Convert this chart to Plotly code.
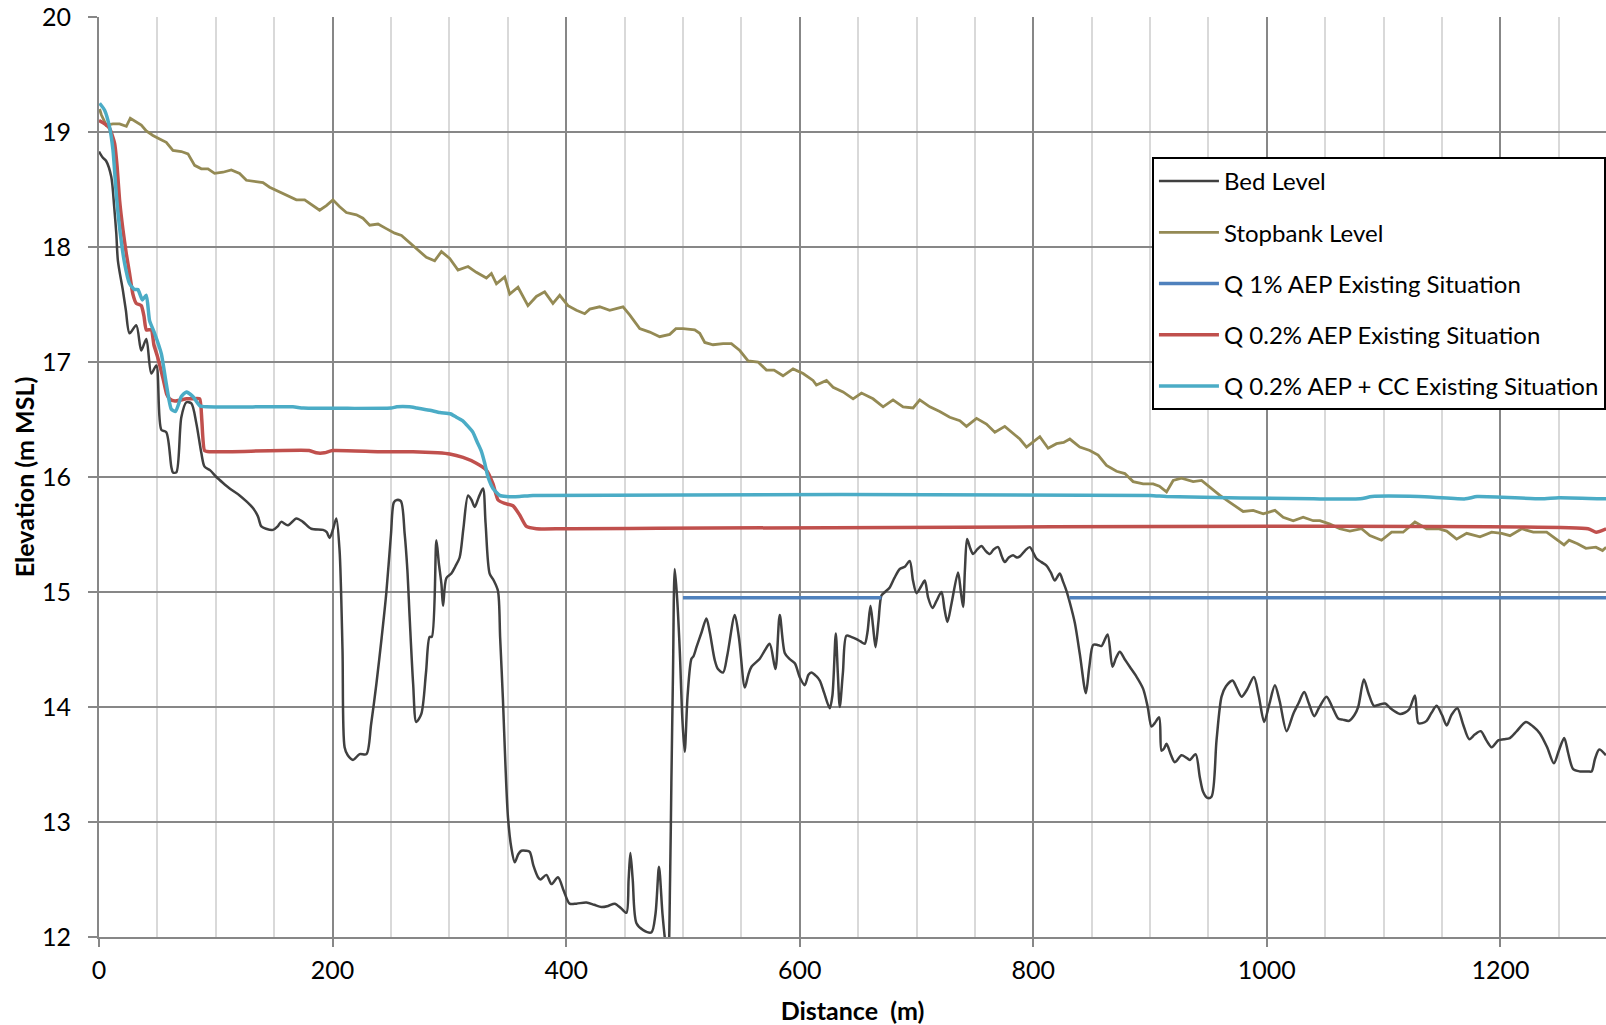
import plotly.graph_objects as go

# ---------------- data ----------------
bed_x = [0, 3, 6, 10.5, 13, 14.8, 16.2, 20.5, 23, 26.2, 31.9, 36.2, 40.5, 44.8, 49.1, 53.4, 57.6, 61.9, 63.3, 66.2,
         70.5, 74.8, 79.1, 83.3, 87.6, 90.4, 95, 100.5, 106, 111.9, 120.4, 126, 131.8, 136, 139, 143, 149, 153, 156,
         161.8, 169, 174.6, 181.8, 191.8, 195, 197.5, 200.5, 203.2, 206, 208.5, 210.3, 213, 217.5, 223.2, 229, 233,
         237.5, 242, 246, 250, 252.5, 255, 258.5, 261.7, 264, 266, 269, 271.7, 276, 280, 283.1, 285, 288.9, 291,
         293.2, 294.6, 297.4, 301.7, 305, 308.8, 312, 316, 319, 321.7, 325, 328.8, 331, 334.5, 338, 341.6, 343.5,
         345.9, 348, 350.2, 353, 356, 359, 361.7, 365.5, 368.8, 372, 375.9, 378, 383.1, 387.4, 393, 398, 403, 408.8,
         417.3, 424, 430.2, 436, 441.6, 447, 451.6, 453.5, 455, 457, 460.2, 466, 473, 476.5, 479.5, 482.5, 485,
         487.3, 489, 490.1, 491.5, 493, 495, 497.3, 499.5, 501.5, 504, 507.3, 509, 511.6, 516, 520.1, 523, 527.2,
         530, 534.4, 538, 544.4, 548, 553, 556, 558.7, 565.8, 570, 574.3, 579.2, 582.9, 587.2, 591, 595.8, 600,
         604.3, 607.5, 610, 614, 617.2, 621, 625.7, 628, 630.9, 632.6, 634.3, 637, 640, 644, 648.6, 652, 655.7, 658,
         660.6, 662.8, 664.9, 667.5, 670, 673, 677.1, 681, 685.7, 690, 694.2, 697, 700, 704, 707.1, 710, 713.7, 717,
         721.4, 724, 726.5, 730, 735.6, 738, 739.9, 741.5, 743.3, 746, 748.5, 752, 755.6, 759, 762.8, 766, 769.9,
         773, 775.6, 779, 782.7, 786, 788.5, 793, 797, 802.8, 807, 811.3, 815, 818.4, 822.7, 825.5, 828.4, 831.5,
         835.6, 840, 845, 848, 851.3, 855, 858.4, 863.6, 867.8, 871, 874.1, 878, 882.6, 888, 894, 898, 901.2, 904,
         907.8, 909.8, 912, 914.1, 918, 921.2, 926.9, 931, 934, 939, 942.6, 945.5, 949, 952.6, 956.9, 961.2, 965,
         970.6, 974, 978.3, 983, 988.9, 993, 997.7, 1002, 1006.9, 1011, 1016.9, 1022.6, 1027, 1032, 1036, 1040.6,
         1045, 1051.1, 1056, 1061.1, 1065, 1070.5, 1075, 1078.2, 1083.1, 1087, 1091.7, 1096, 1101.1, 1107, 1114,
         1118, 1121.9, 1126.8, 1129.7, 1133, 1136.8, 1141, 1145.4, 1150, 1154, 1158, 1163.1, 1168, 1173.3, 1178,
         1183.1, 1188, 1192.5, 1198.1, 1203, 1208.1, 1214, 1221.8, 1228, 1233.8, 1240, 1245.8, 1250, 1254.6, 1258,
         1262.3, 1268, 1275, 1278.1, 1281, 1284.6, 1290.3]
bed_y = [18.83, 18.78, 18.75, 18.61, 18.35, 18.12, 17.88, 17.62, 17.45, 17.25, 17.32, 17.10, 17.20, 16.90, 16.97,
         16.41, 16.39, 16.09, 16.04, 16.04, 16.52, 16.65, 16.64, 16.47, 16.21, 16.09, 16.06, 16.0, 15.95, 15.90,
         15.84, 15.79, 15.73, 15.66, 15.57, 15.55, 15.54, 15.57, 15.61, 15.58, 15.64, 15.61, 15.55, 15.54, 15.52,
         15.47, 15.55, 15.64, 15.36, 14.5, 13.65, 13.58, 13.54, 13.59, 13.59, 13.85, 14.20, 14.6, 14.99, 15.5, 15.78,
         15.80, 15.79, 15.51, 15.2, 14.78, 14.2, 13.87, 13.94, 14.30, 14.61, 14.61, 15.45, 15.25, 15.07, 14.88, 15.12,
         15.16, 15.22, 15.30, 15.55, 15.84, 15.80, 15.74, 15.82, 15.90, 15.6, 15.16, 15.10, 15.01, 14.6, 14.06, 13.5,
         13.04, 12.78, 12.65, 12.72, 12.75, 12.75, 12.74, 12.62, 12.52, 12.50, 12.54, 12.46, 12.52, 12.40, 12.29,
         12.29, 12.30, 12.28, 12.26, 12.27, 12.29, 12.25, 12.21, 12.5, 12.73, 12.5, 12.12, 12.06, 12.04, 12.2, 12.61,
         12.2, 11.95, 11.8, 12.5, 13.34, 14.3, 15.20, 14.95, 14.49, 13.9, 13.61, 14.1, 14.42, 14.44, 14.52, 14.65,
         14.77, 14.65, 14.41, 14.33, 14.30, 14.45, 14.80, 14.6, 14.17, 14.28, 14.35, 14.42, 14.49, 14.55, 14.33,
         14.80, 14.47, 14.42, 14.38, 14.26, 14.19, 14.28, 14.30, 14.27, 14.23, 14.12, 13.99, 14.1, 14.64, 14.3, 14.00,
         14.3, 14.62, 14.61, 14.59, 14.57, 14.55, 14.65, 14.88, 14.7, 14.52, 14.75, 14.97, 15.0, 15.04, 15.12, 15.20,
         15.22, 15.27, 15.1, 14.99, 15.05, 15.10, 14.95, 14.86, 14.92, 15.00, 14.85, 14.74, 14.9, 15.17, 15.0, 14.87,
         15.2, 15.46, 15.38, 15.33, 15.37, 15.40, 15.36, 15.33, 15.37, 15.39, 15.31, 15.26, 15.30, 15.32, 15.30,
         15.31, 15.36, 15.39, 15.29, 15.26, 15.23, 15.17, 15.10, 15.16, 15.09, 15.01, 14.90, 14.73, 14.45, 14.12,
         14.35, 14.54, 14.54, 14.53, 14.63, 14.35, 14.43, 14.48, 14.42, 14.35, 14.27, 14.16, 14.0, 13.83, 13.86,
         13.91, 13.62, 13.64, 13.68, 13.58, 13.52, 13.58, 13.56, 13.54, 13.59, 13.39, 13.26, 13.21, 13.22, 13.71,
         14.09, 14.18, 14.23, 14.17, 14.09, 14.15, 14.26, 14.1, 13.87, 14.02, 14.19, 14.05, 13.79, 13.94, 14.03,
         14.13, 14.03, 13.92, 14.0, 14.09, 14.0, 13.90, 13.89, 13.88, 13.93, 14.00, 14.24, 14.12, 14.01, 14.02,
         14.03, 13.98, 13.94, 13.95, 13.98, 14.10, 13.86, 13.86, 13.88, 13.95, 14.01, 13.93, 13.84, 13.93, 13.99,
         13.85, 13.72, 13.76, 13.79, 13.71, 13.65, 13.71, 13.72, 13.73, 13.79, 13.87, 13.83, 13.77, 13.65, 13.51,
         13.62, 13.73, 13.6, 13.46, 13.44, 13.44, 13.44, 13.55, 13.63, 13.58]

stop_x = [0.5, 2, 6.2, 11.9, 17.6, 23.4, 26.8, 31.9, 36.2, 40.5, 46.2, 51.9, 57.6, 63.3, 70.5, 76.2, 81.9, 87.6, 93.3,
          99, 106.1, 113.3, 120.4, 126.2, 133.3, 140.4, 146.1, 154.7, 161.8, 169, 176.1, 183.2, 188.9, 194.7, 200.3,
          206.1, 211.8, 220.4, 226, 231.8, 238.9, 246, 253.2, 259, 266, 271.7, 280.3, 287.4, 293.2, 300.3, 307.4,
          316, 323.1, 331.7, 336, 340.3, 347.4, 351.7, 358.8, 367.3, 374.5, 381.6, 388.7, 394.5, 401.6, 408.8, 415.9,
          420.2, 428.7, 437.3, 448.7, 454.4, 463, 471.6, 480.1, 488.7, 494, 500.1, 510.1, 514.4, 518.7, 525.8, 534.4,
          541.5, 548.7, 555.8, 564.3, 571.5, 578, 585.7, 594.3, 602.9, 611.4, 614.3, 622.9, 628.6, 637.1, 645.7,
          652.9, 662.8, 671.4, 679.9, 688.5, 697.1, 702.8, 711.4, 719.9, 728.5, 737.1, 742.8, 751.4, 759.9, 767.1,
          775.6, 782.7, 788.5, 794.2, 801.3, 805.6, 812.7, 819.9, 826, 831.3, 839.8, 848.4, 855.5, 862.7, 871.3,
          878.4, 885.5, 894.1, 902.6, 908, 914.1, 919.8, 926.9, 936.9, 944.1, 951.2, 959.8, 968.3, 979.7, 988.3,
          996.9, 1006.9, 1014, 1022.6, 1031.1, 1039.7, 1045.4, 1054, 1062.5, 1071.1, 1081.1, 1088.2, 1098.2, 1106.8,
          1116.7, 1126.8, 1136.8, 1146.8, 1154, 1162.5, 1171.1, 1182.5, 1192.5, 1201.1, 1208.2, 1218.2, 1228.1,
          1239.6, 1248.2, 1254.5, 1258.8, 1266, 1273.2, 1281.7, 1287.4, 1290.5]
stop_y = [19.20, 19.15, 19.06, 19.07, 19.07, 19.05, 19.12, 19.09, 19.06, 19.01, 18.97, 18.94, 18.91, 18.84, 18.83,
          18.81, 18.71, 18.68, 18.68, 18.64, 18.65, 18.67, 18.64, 18.58, 18.57, 18.56, 18.52, 18.48, 18.45, 18.41,
          18.41, 18.36, 18.32, 18.36, 18.41, 18.35, 18.30, 18.28, 18.25, 18.19, 18.20, 18.16, 18.12, 18.10, 18.04,
          17.99, 17.91, 17.88, 17.96, 17.90, 17.80, 17.83, 17.78, 17.73, 17.77, 17.68, 17.74, 17.59, 17.65, 17.49,
          17.57, 17.61, 17.51, 17.58, 17.49, 17.45, 17.42, 17.46, 17.48, 17.45, 17.48, 17.41, 17.29, 17.26, 17.22,
          17.24, 17.29, 17.29, 17.28, 17.25, 17.17, 17.15, 17.16, 17.16, 17.10, 17.01, 17.00, 16.93, 16.93, 16.88,
          16.94, 16.90, 16.84, 16.80, 16.84, 16.78, 16.74, 16.68, 16.73, 16.68, 16.61, 16.67, 16.61, 16.60, 16.67,
          16.61, 16.57, 16.52, 16.49, 16.44, 16.51, 16.46, 16.39, 16.44, 16.38, 16.33, 16.26, 16.32, 16.35, 16.25,
          16.29, 16.30, 16.33, 16.26, 16.23, 16.19, 16.10, 16.05, 16.03, 15.96, 15.94, 15.94, 15.92, 15.87, 15.97,
          15.99, 15.96, 15.97, 15.91, 15.84, 15.78, 15.70, 15.71, 15.68, 15.71, 15.65, 15.62, 15.65, 15.62, 15.62,
          15.59, 15.55, 15.53, 15.55, 15.49, 15.45, 15.52, 15.52, 15.61, 15.55, 15.55, 15.53, 15.46, 15.51, 15.48,
          15.52, 15.51, 15.49, 15.55, 15.52, 15.52, 15.46, 15.41, 15.45, 15.42, 15.38, 15.39, 15.36, 15.39]

q1_x = [500, 670, 750, 831, 1295]
q1_y = [14.95, 14.95, None, 14.95, 14.95]

q02_x = [0, 5, 9.1, 13.4, 15.5, 17.6, 20.5, 23.4, 26, 29, 31.9, 36.2, 38.5, 40.5, 44.8, 47, 50, 55, 58, 60.5, 65,
         70, 75, 80, 86.2, 88, 90.4, 95, 180, 186, 193, 200, 240, 268.9, 290, 300.3, 311.7, 323.1, 331.7, 337.4,
         341.7, 347.4, 354.5, 360.2, 366, 374.5, 400, 1275, 1282, 1290.5]
q02_y = [19.10, 19.07, 19.03, 18.90, 18.70, 18.41, 18.15, 17.94, 17.78, 17.59, 17.51, 17.49, 17.40, 17.28, 17.28,
         17.15, 17.05, 16.85, 16.72, 16.68, 16.66, 16.67, 16.68, 16.68, 16.68, 16.50, 16.23, 16.22, 16.23, 16.21,
         16.21, 16.23, 16.22, 16.22, 16.21, 16.20, 16.17, 16.12, 16.06, 15.94, 15.80, 15.77, 15.75, 15.67, 15.57,
         15.55, 15.55, 15.55, 15.52, 15.55]

qcc_x = [0.5, 4.8, 9.1, 12, 14.8, 17.6, 21.9, 26.2, 30.5, 33.3, 37.1, 40.5, 43.3, 47.6, 53.4, 57.6, 61.9, 65.6, 70.5,
         74.8, 80.4, 86.2, 91.9, 166, 175, 250, 255, 265.8, 272, 283.3, 292, 300.8, 306, 311.3, 316, 320.1, 324,
         327.2, 330.3, 333.1, 337.4, 343.1, 348.8, 360.2, 371.6, 900, 914, 1040, 1080, 1090, 1130, 1170, 1180, 1235,
         1250, 1290.5]
qcc_y = [19.25, 19.19, 19.04, 18.84, 18.46, 18.17, 17.86, 17.68, 17.63, 17.63, 17.54, 17.58, 17.36, 17.25, 17.07,
         16.81, 16.59, 16.57, 16.70, 16.74, 16.70, 16.62, 16.61, 16.61, 16.60, 16.60, 16.61, 16.61, 16.60, 16.58,
         16.56, 16.55, 16.52, 16.49, 16.44, 16.39, 16.30, 16.23, 16.12, 16.00, 15.90, 15.84, 15.83, 15.83, 15.84,
         15.84, 15.83, 15.81, 15.81, 15.83, 15.83, 15.81, 15.83, 15.81, 15.82, 15.81]

names = ["Bed Level", "Stopbank Level", "Q 1% AEP Existing Situation",
         "Q 0.2% AEP Existing Situation", "Q 0.2% AEP + CC Existing Situation"]

x_ticks = [0, 200, 400, 600, 800, 1000, 1200]
y_ticks = [12, 13, 14, 15, 16, 17, 18, 19, 20]

# ---------------- figure ----------------
FONT = "Lato"
fig = go.Figure()
fig.add_trace(go.Scatter(x=bed_x, y=bed_y, name=names[0], mode="lines", legendgroup="a",
                         line=dict(color="#404040", width=2.5, shape="spline", smoothing=0.8)))
fig.add_trace(go.Scatter(x=stop_x, y=stop_y, name=names[1], mode="lines", legendgroup="b",
                         line=dict(color="#948A54", width=2.8)))
fig.add_trace(go.Scatter(x=q1_x, y=q1_y, name=names[2], mode="lines", legendgroup="c",
                         line=dict(color="#4F81BD", width=3.5)))
fig.add_trace(go.Scatter(x=q02_x, y=q02_y, name=names[3], mode="lines", legendgroup="d",
                         line=dict(color="#C0504D", width=3.5, shape="spline", smoothing=0.5)))
fig.add_trace(go.Scatter(x=qcc_x, y=qcc_y, name=names[4], mode="lines", legendgroup="e",
                         line=dict(color="#4BACC6", width=3.5, shape="spline", smoothing=0.5)))

fig.update_layout(
    width=1606, height=1025,
    margin=dict(l=99, r=0, t=17, b=88),
    paper_bgcolor="white", plot_bgcolor="white",
    font=dict(family=FONT, size=24, color="black"),
    showlegend=True,
    legend=dict(x=0.6987, y=0.8478, xanchor="left", yanchor="top",
                bgcolor="white", bordercolor="black", borderwidth=2,
                font=dict(family=FONT, size=24, color="black"),
                traceorder="grouped", tracegroupgap=17, itemwidth=60),
)
fig.update_xaxes(
    range=[0, 1290.4], tickvals=x_ticks, ticktext=[str(v) for v in x_ticks],
    showgrid=True, gridcolor="#878787", gridwidth=1.5,
    minor=dict(dtick=50, showgrid=True, gridcolor="#d9d9d9", gridwidth=1.5, ticks=""),
    showline=True, linecolor="#878787", linewidth=2,
    ticks="outside", ticklen=8, tickcolor="#878787", tickwidth=1.5,
    ticklabelstandoff=2, tickfont=dict(family=FONT, size=25, color="black"), zeroline=False,
    title=dict(text="<b>Distance  (m)</b>", font=dict(family=FONT, size=25, color="black"), standoff=22),
)
fig.update_yaxes(
    range=[12, 20], tickvals=y_ticks, ticktext=[str(v) for v in y_ticks],
    showgrid=True, gridcolor="#878787", gridwidth=1.5,
    showline=True, linecolor="#878787", linewidth=2,
    ticks="outside", ticklen=9, tickcolor="#878787", tickwidth=1.5,
    ticklabelstandoff=12, tickfont=dict(family=FONT, size=25, color="black"), zeroline=False,
    title=dict(text="<b>Elevation (m MSL)</b>", font=dict(family=FONT, size=25, color="black"), standoff=0),
)

fig.write_html("out.html")
